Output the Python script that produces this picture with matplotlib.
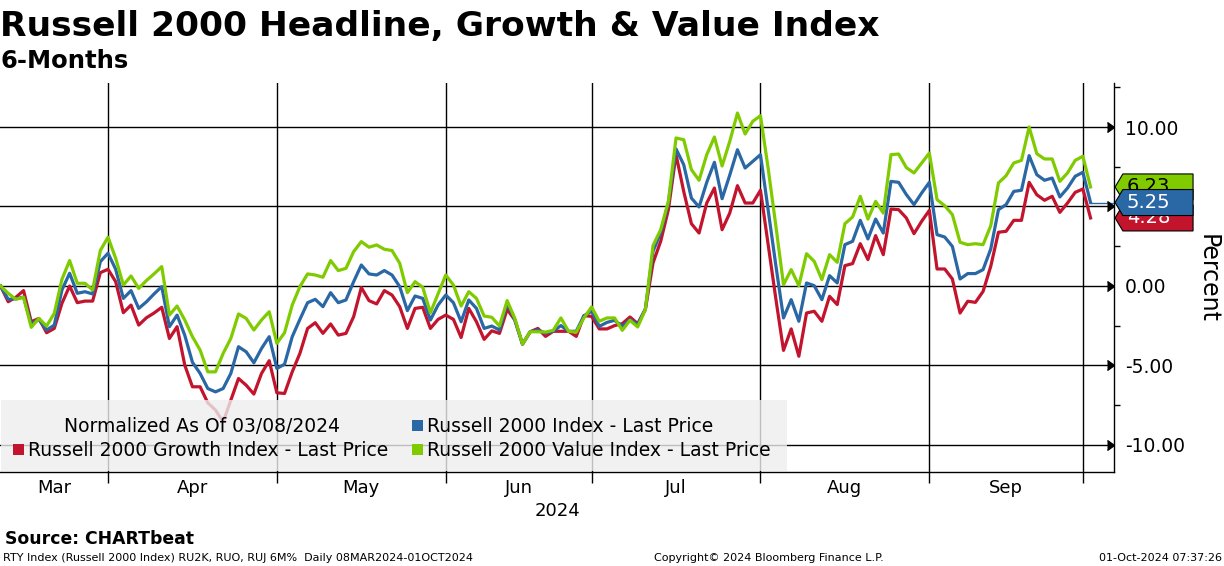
import numpy as np
import pandas as pd
import matplotlib
matplotlib.use('Agg')
import matplotlib.pyplot as plt
from matplotlib.patches import Polygon, Rectangle

# Trading days 08 Mar 2024 - 01 Oct 2024 (NYSE holidays removed)
holidays = ['2024-03-29', '2024-05-27', '2024-06-19', '2024-07-04', '2024-09-02']
dates = pd.bdate_range('2024-03-08', '2024-10-01')
dates = dates[~dates.isin(pd.to_datetime(holidays))]

# Normalized % change since 03/08/2024
growth = [0, -0.99, -0.71, -0.29, -2.25, -2.04, -2.94, -2.67, -1.09, 0.0,
          -1.05, -0.95, -0.95, 0.84, 1.05, 0.27, -1.68, -1.2, -2.46, -2.0,
          -1.7, -1.34, -3.3, -2.56, -4.98, -6.34, -6.34, -7.35, -7.8, -8.55,
          -7.18, -5.82, -6.24, -6.8, -5.5, -4.7, -6.72, -6.76, -5.4, -4.24,
          -2.67, -2.31, -2.98, -2.39, -3.09, -2.98, -1.93, -0.1, -0.92, -1.13,
          -0.29, -0.57, -1.3, -2.67, -1.41, -1.34, -2.67, -2.1, -1.83, -2.1,
          -3.24, -1.41, -2.25, -3.36, -2.82, -2.98, -1.47, -2.14, -3.66, -2.88,
          -2.67, -3.17, -2.85, -2.85, -2.85, -3.17, -1.87, -1.91, -2.7, -2.7,
          -2.49, -2.37, -1.95, -2.37, -1.49, 1.45, 2.81, 4.8, 8.26, 5.95,
          3.92, 3.33, 5.22, 6.16, 3.54, 4.59, 6.31, 5.22, 5.22, 6.02,
          2.6, -0.8, -4.05, -2.7, -4.42, -1.7, -1.59, -2.22, -0.65, -1.17,
          1.28, 1.41, 2.66, 1.66, 3.17, 1.97, 4.84, 4.8, 4.28, 3.29,
          4.07, 4.76, 1.07, 1.07, 0.44, -1.7, -0.96, -1.03, -0.34, 1.24,
          3.38, 3.44, 4.13, 4.13, 6.52, 5.74, 5.39, 5.64, 4.63, 5.22,
          5.89, 6.1, 4.28]
headline = [0, -0.84, -0.8, -0.7, -2.4, -2.1, -2.77, -2.46, -0.25, 0.8,
            -0.46, -0.36, -0.5, 1.53, 2.06, 1.05, -0.78, -0.29, -1.41, -1.0,
            -0.5, -0.04, -2.56, -1.83, -3.1, -4.8, -5.5, -6.45, -6.66, -6.45,
            -5.5, -3.82, -4.14, -4.83, -3.93, -3.19, -5.19, -4.92, -3.19, -2.1,
            -1.05, -0.84, -1.3, -0.42, -1.05, -0.88, 0.27, 1.32, 0.76, 0.69,
            0.97, 0.69, -0.04, -1.55, -0.63, -0.78, -2.14, -1.2, -0.57, -1.05,
            -2.25, -0.88, -1.41, -2.67, -2.52, -2.77, -1.05, -2.14, -3.66, -2.88,
            -2.77, -2.96, -2.85, -2.49, -2.85, -2.85, -1.87, -1.59, -2.54, -2.29,
            -2.16, -2.54, -2.12, -2.43, -1.45, 2.18, 3.35, 5.24, 8.62, 7.63,
            5.53, 4.97, 6.52, 7.78, 5.49, 6.98, 8.57, 7.42, 7.84, 8.26,
            4.8, 1.3, -2.01, -0.86, -2.22, 0.19, 0.02, -0.86, 0.65, 0.19,
            2.6, 2.81, 4.13, 2.96, 4.21, 3.33, 6.58, 6.52, 5.75, 5.12,
            5.85, 6.52, 3.23, 3.08, 2.49, 0.44, 0.78, 0.78, 1.03, 2.33,
            4.8, 5.12, 5.95, 6.02, 8.2, 7.0, 6.65, 6.79, 5.6, 6.16,
            6.9, 7.15, 5.25]
value = [0, -0.46, -0.84, -0.71, -2.6, -2.04, -2.52, -1.72, 0.42, 1.6,
         0.17, 0.17, -0.25, 2.23, 3.07, 1.74, 0.06, 0.63, -0.15, 0.34,
         0.76, 1.22, -1.83, -1.26, -2.14, -3.19, -4.03, -5.4, -5.4, -4.24,
         -3.3, -1.76, -2.04, -2.77, -2.14, -1.62, -3.61, -2.94, -1.2, -0.04,
         0.76, 0.69, 0.55, 1.6, 0.97, 1.11, 2.16, 2.79, 2.44, 2.58,
         2.31, 2.23, 1.43, -0.42, 0.27, -0.08, -1.68, -0.5, 0.69, 0.06,
         -1.26, -0.36, -0.78, -1.89, -1.97, -2.52, -0.92, -2.04, -3.66, -2.88,
         -2.88, -2.9, -2.79, -2.01, -2.85, -2.91, -2.01, -1.32, -2.22, -2.01,
         -2.01, -2.79, -2.16, -2.58, -1.49, 2.54, 3.54, 5.32, 9.31, 9.2,
         7.32, 6.65, 8.26, 9.37, 7.55, 9.1, 10.88, 9.56, 10.36, 10.71,
         7.4, 3.8, 0.08, 1.03, 0.02, 2.03, 1.55, 0.4, 1.97, 1.49,
         3.92, 4.34, 5.64, 4.21, 5.32, 4.59, 8.26, 8.3, 7.45, 7.11,
         7.74, 8.36, 5.43, 5.05, 4.49, 2.75, 2.6, 2.66, 2.6, 3.79,
         6.48, 6.94, 7.74, 7.9, 10.0, 8.32, 7.99, 7.99, 6.58, 7.11,
         7.9, 8.16, 6.23]

month_names = ['Mar', 'Apr', 'May', 'Jun', 'Jul', 'Aug', 'Sep']
y_ticks = [-10, -5, 0, 5, 10]

RED = '#c2142d'
BLUE = '#2a67a5'
GREEN = '#7fcb00'
FONT = 'DejaVu Sans'

x = np.arange(len(dates))
# gridline sits on the last trading day of each month
month = dates.month.values
bounds = [i for i in range(len(dates) - 1) if month[i] != month[i + 1]]
edges = [0] + bounds
centers = [(edges[k] + edges[k + 1]) / 2 for k in range(len(bounds))]

fig = plt.figure(figsize=(12.24, 5.66), dpi=100, facecolor='white')
ax = fig.add_axes([0, 0.1661, 0.9101, 0.6873])
ax.set_xlim(-0.07, 145.05)
ax.set_ylim(-11.70, 12.77)

for yv in y_ticks:
    ax.axhline(yv, color='black', lw=1.0, zorder=1)
for b in bounds:
    ax.axvline(b, color='black', lw=1.0, zorder=1)

ax.plot(x, growth, color=RED, lw=2.3, zorder=3)
ax.plot(x, headline, color=BLUE, lw=2.3, zorder=3)
ax.plot(x, value, color=GREEN, lw=2.3, zorder=3)
ax.plot([x[-1], 145.05], [headline[-1], headline[-1]], color=BLUE, lw=1.0, zorder=3)

for side in ['left', 'top']:
    ax.spines[side].set_visible(False)
ax.spines['bottom'].set_linewidth(1.0)
ax.spines['right'].set_linewidth(1.0)

ax.set_xticks(bounds)
ax.set_xticklabels([])
ax.set_xticks(centers, minor=True)
ax.set_xticklabels(month_names, minor=True, fontsize=13, family=FONT)
ax.tick_params(axis='x', which='major', length=8, width=1, color='black')
ax.tick_params(axis='x', which='minor', length=0, pad=5)

ax.yaxis.tick_right()
ax.set_yticks(y_ticks)
ax.set_yticklabels(['%.2f' % v for v in y_ticks], fontsize=13.5, family=FONT)
ax.set_yticks([-7.5, -2.5, 2.5, 7.5, 12.5], minor=True)
ax.tick_params(axis='y', which='major', length=0, pad=8)
ax.tick_params(axis='y', which='minor', length=4, width=1, direction='out')
ax.plot(np.ones(len(y_ticks)), y_ticks, transform=ax.get_yaxis_transform(),
        ls='none', marker=5, ms=7, color='black', clip_on=False, zorder=4)

# last value tags on right axis
trans = ax.get_yaxis_transform()
half = 0.818
tags = [(value[-1], GREEN, 'black'), (growth[-1], RED, 'white'), (headline[-1], BLUE, 'white')]
for k, (yv, fc, tc) in enumerate(tags):
    pts = [(1.001, yv), (1.008, yv + half), (1.071, yv + half),
           (1.071, yv - half), (1.008, yv - half)]
    ax.add_patch(Polygon(pts, closed=True, facecolor=fc, edgecolor='black', lw=0.8,
                         transform=trans, clip_on=False, zorder=10 + 2 * k))
    ax.text(1.0115, yv, '%.2f' % yv, transform=trans, color=tc, fontsize=14,
            family=FONT, va='center', ha='left', clip_on=False, zorder=11 + 2 * k)

fig.text(1208 / 1224, 1 - 279 / 566, 'Percent', rotation=270, ha='center', va='center',
         fontsize=17, family=FONT)

# legend panel
fig.patches.append(Rectangle((1 / 1224, 1 - 471 / 566), 786 / 1224, 71 / 566,
                             transform=fig.transFigure, facecolor='#eeeeee',
                             edgecolor='none', alpha=0.8, zorder=2))
fig.text(64 / 1224, 1 - 432 / 566, 'Normalized As Of 03/08/2024', fontsize=13.5,
         family=FONT, va='baseline', zorder=3)
legend_items = [(412, 432, BLUE, 'Russell 2000 Index - Last Price'),
                (13, 456, RED, 'Russell 2000 Growth Index - Last Price'),
                (412, 456, GREEN, 'Russell 2000 Value Index - Last Price')]
for lx, ly, c, lab in legend_items:
    fig.patches.append(Rectangle((lx / 1224, 1 - (ly - 1) / 566), 11 / 1224, 11 / 566,
                                 transform=fig.transFigure, facecolor=c,
                                 edgecolor='none', zorder=3))
    fig.text((lx + 15) / 1224, 1 - ly / 566, lab, fontsize=13.5, family=FONT,
             va='baseline', zorder=3)

fig.text(557 / 1224, 1 - 511 / 566, '2024', fontsize=13, family=FONT,
         ha='center', va='center')

# titles
fig.text(0.0, 1 - 36 / 566, 'Russell 2000 Headline, Growth & Value Index',
         fontsize=24.8, fontweight='bold', family=FONT, va='baseline')
fig.text(0.0, 1 - 68 / 566, '6-Months', fontsize=17.5, fontweight='bold',
         family=FONT, va='baseline')

# footer
fig.text(5 / 1224, 1 - 544 / 566, 'Source: CHARTbeat', fontsize=12.4,
         fontweight='bold', family=FONT, va='baseline')
fig.text(3 / 1224, 1 - 561 / 566,
         'RTY Index (Russell 2000 Index) RU2K, RUO, RUJ 6M%  Daily 08MAR2024-01OCT2024',
         fontsize=8, family=FONT, va='baseline')
fig.text(654 / 1224, 1 - 561 / 566, 'Copyright\u00a9 2024 Bloomberg Finance L.P.',
         fontsize=8, family=FONT, va='baseline')
fig.text(1222 / 1224, 1 - 561 / 566, '01-Oct-2024 07:37:26', fontsize=8,
         family=FONT, va='baseline', ha='right')

fig.savefig('out.png', dpi=100, facecolor='white')
